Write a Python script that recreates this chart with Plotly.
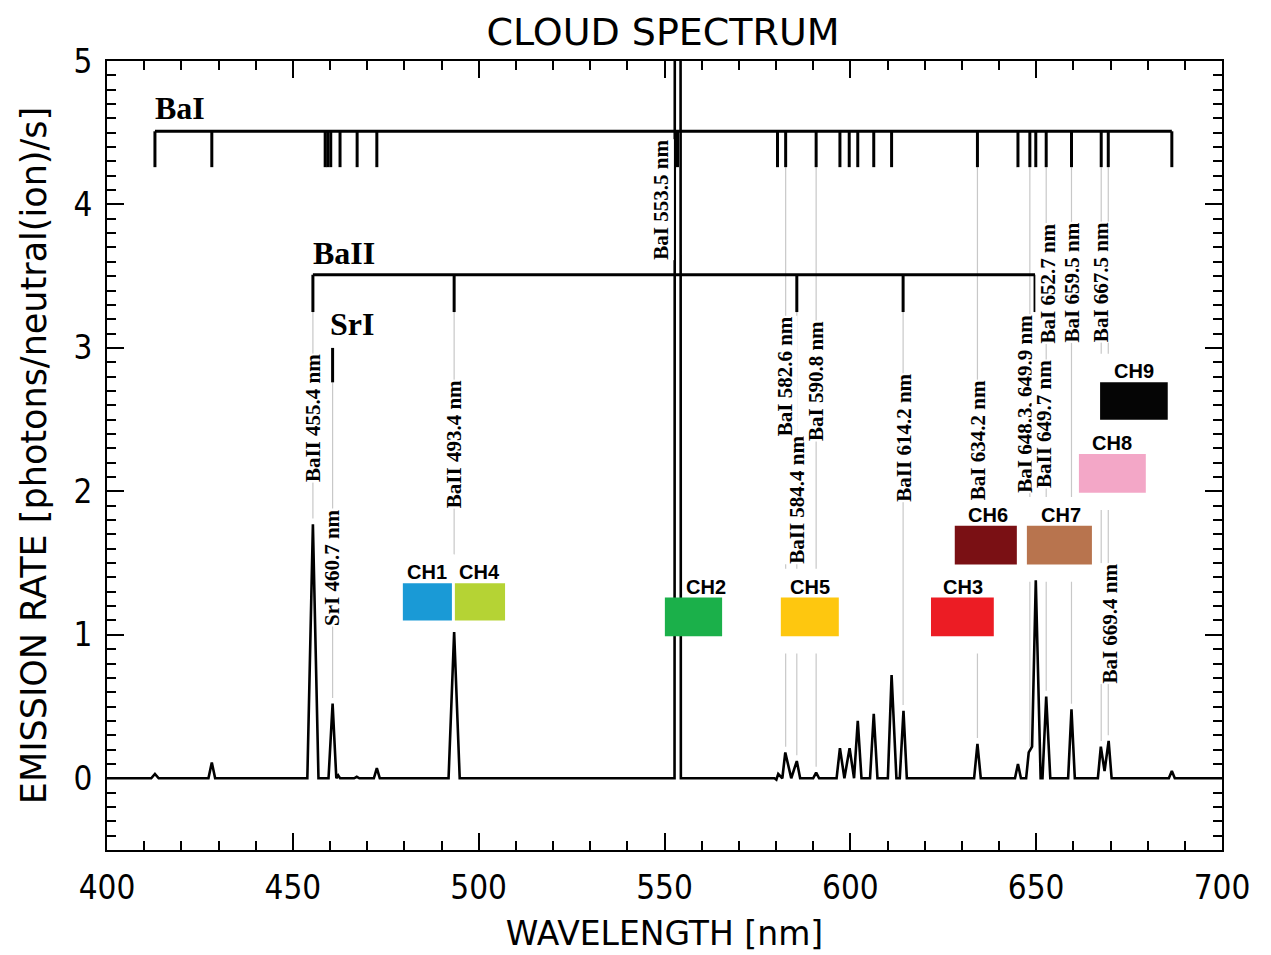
import numpy as np
import plotly.graph_objects as go

# ---------------- data ----------------
spec_wl = [400.0, 411.9, 412.9, 413.9, 427.3, 428.2, 429.1, 453.9, 455.4, 456.9,
           459.6, 460.7, 461.7, 462.2, 462.7, 463.3, 466.5, 467.2, 467.9, 471.8,
           472.6, 473.4, 491.9, 493.4, 494.9, 552.7, 553.5, 554.4, 579.6, 580.1,
           580.6, 581.7, 582.5, 584.1, 585.6, 586.5, 590.0, 590.8, 591.6, 596.3,
           597.2, 598.4, 599.8, 601.0, 602.0, 603.0, 605.3, 606.3, 607.3, 610.1,
           611.1, 612.4, 613.3, 614.3, 615.2, 633.3, 634.2, 635.1, 644.3, 645.1,
           645.9, 647.3, 648.0, 648.9, 649.9, 651.2, 651.7, 652.7, 653.8, 658.6,
           659.5, 660.4, 666.6, 667.4, 668.4, 669.5, 670.3, 685.7, 686.5, 687.3, 700.0]
spec_rate = [0.0, 0.0, 0.03, 0.0, 0.0, 0.11, 0.0, 0.0, 1.77, 0.0,
             0.0, 0.52, 0.0, 0.02, 0.0, 0.0, 0.0, 0.01, 0.0, 0.0,
             0.07, 0.0, 0.0, 1.02, 0.0, 0.0, 60.0, 0.0, 0.0, -0.01,
             0.03, 0.0, 0.18, 0.0, 0.12, 0.0, 0.0, 0.04, 0.0, 0.0,
             0.21, 0.0, 0.21, 0.0, 0.40, 0.0, 0.0, 0.45, 0.0, 0.0,
             0.72, 0.0, 0.0, 0.47, 0.0, 0.0, 0.24, 0.0, 0.0, 0.10,
             0.0, 0.0, 0.18, 0.22, 1.38, 0.0, 0.0, 0.57, 0.0, 0.0,
             0.48, 0.0, 0.0, 0.22, 0.05, 0.26, 0.0, 0.0, 0.05, 0.0, 0.0]

# line identification brackets (positions as drawn in the picture)
bai_lines = [412.9, 428.2, 458.7, 459.4, 460.2, 462.7, 467.3, 472.6, 553.5, 580.4,
             582.6, 590.8, 597.2, 599.7, 602.0, 606.3, 611.1, 634.2, 645.1, 648.3,
             649.9, 652.7, 659.5, 667.5, 669.4, 686.5]
bai_level, bai_tick_end = 4.51, 4.26
baii_lines = [455.4, 493.4, 585.6, 614.2, 649.7]
baii_level, baii_tick_end = 3.51, 3.25
sri_lines = [460.7]
sri_top, sri_tick_end = 3.0, 2.76

# labelled lines: text, drawn wavelength, label centre (rate), pixel shift
label_text = ["BaII 455.4 nm", "SrI 460.7 nm", "BaII 493.4 nm", "BaI 553.5 nm",
              "BaI 582.6 nm", "BaII 584.4 nm", "BaI 590.8 nm", "BaII 614.2 nm",
              "BaI 634.2 nm", "BaI 648.3, 649.9 nm", "BaII 649.7 nm", "BaI 652.7 nm",
              "BaI 659.5 nm", "BaI 667.5 nm", "BaI 669.4 nm"]
label_wl = [455.4, 460.7, 493.4, 553.5, 582.6, 585.6, 590.8, 614.2, 634.2, 648.3,
            649.7, 652.7, 659.5, 667.5, 669.4]
label_y = [2.51, 1.47, 2.33, 4.03, 2.80, 1.94, 2.77, 2.375, 2.36, 2.61,
           2.47, 3.45, 3.46, 3.46, 1.08]
label_dx = [0, 0, 0, -16, -1, 0, 0, 0, 0, -5, 9, 2, 0, 0, 2]

# grey guide lines: wavelength and which bracket they hang from
guide_wl = [455.4, 460.7, 493.4, 582.6, 585.6, 590.8, 614.2, 634.2, 648.3,
            652.7, 659.5, 667.5, 669.4]
guide_top = [baii_tick_end, sri_tick_end, baii_tick_end, bai_tick_end, baii_tick_end,
             bai_tick_end, baii_tick_end, bai_tick_end, bai_tick_end, bai_tick_end,
             bai_tick_end, bai_tick_end, bai_tick_end]

# camera channels
ch_names = ["CH1", "CH4", "CH2", "CH5", "CH3", "CH6", "CH7", "CH8", "CH9"]
ch_x0 = [479.6, 493.6, 550.1, 581.3, 621.7, 628.1, 647.5, 661.5, 667.2]
ch_x1 = [492.8, 507.1, 565.5, 596.9, 638.6, 644.8, 665.0, 679.5, 685.4]
ch_y0 = [1.10, 1.10, 0.99, 0.99, 0.99, 1.49, 1.49, 1.99, 2.50]
ch_y1 = [1.36, 1.36, 1.26, 1.26, 1.26, 1.76, 1.76, 2.26, 2.76]
ch_colors = ["#1a9ad6", "#b5d334", "#1bb04a", "#fec70f", "#ec1c24",
             "#7a1014", "#b8744e", "#f3a7c7", "#050505"]
ch_label_dx = [0, 0, 13, 0, 1, 2, 2, 0, 0]

# species labels
species = ["BaI", "BaII", "SrI"]
species_x = [412.9, 455.4, 459.9]
species_y = [4.67, 3.66, 3.17]

SANS_N = "DejaVu Sans Condensed, Liberation Sans Narrow, Arial Narrow, sans-serif"
SANS = "DejaVu Sans, Verdana, sans-serif"
SERIF = "Liberation Serif, Times New Roman, serif"

fig = go.Figure()

# ---- grey guide lines (below) ----
wl_arr = np.array(spec_wl)
rate_arr = np.array(spec_rate)
for wl, top in zip(guide_wl, guide_top):
    near = np.abs(wl_arr - wl) < 0.6
    peak = rate_arr[near].max() if near.any() else 0.0
    fig.add_shape(type="line", x0=wl, x1=wl, y0=peak + 0.04, y1=top,
                  line=dict(color="#c8c8c8", width=1.2), layer="below")

# white padding around channel boxes (hides guide lines)
for x0, x1, y0, y1 in zip(ch_x0, ch_x1, ch_y0, ch_y1):
    fig.add_shape(type="rect", x0=x0 - 0.6, x1=x1 + 0.6, y0=y0 - 0.12, y1=y1 + 0.2,
                  line=dict(width=0), fillcolor="white", layer="below")

# ---- spectrum ----
fig.add_trace(go.Scatter(x=spec_wl, y=spec_rate, mode="lines",
                         line=dict(color="black", width=2.6), hoverinfo="skip",
                         showlegend=False))


def bracket(lines, level, tick_end, with_bar=True):
    xs, ys = [], []
    if with_bar:
        xs += [min(lines), max(lines), None]
        ys += [level, level, None]
    for wl in lines:
        xs += [wl, wl, None]
        ys += [level, tick_end, None]
    return xs, ys


for lines, lev, end, bar in [(bai_lines, bai_level, bai_tick_end, True),
                             (baii_lines, baii_level, baii_tick_end, True),
                             (sri_lines, sri_top, sri_tick_end, False)]:
    bx, by = bracket(lines, lev, end, bar)
    fig.add_trace(go.Scatter(x=bx, y=by, mode="lines",
                             line=dict(color="black", width=3), hoverinfo="skip",
                             showlegend=False))

# ---- channel boxes (above) ----
for name, x0, x1, y0, y1, c, dx in zip(ch_names, ch_x0, ch_x1, ch_y0, ch_y1,
                                       ch_colors, ch_label_dx):
    fig.add_shape(type="rect", x0=x0, x1=x1, y0=y0, y1=y1, fillcolor=c,
                  line=dict(width=0), layer="above")
    fig.add_annotation(x=(x0 + x1) / 2, y=y1, text="<b>%s</b>" % name, showarrow=False,
                       xanchor="center", yanchor="bottom", xshift=dx, yshift=-2,
                       font=dict(family="Liberation Sans, Arial, sans-serif", size=20,
                                 color="black"))

# ---- line labels ----
for t, wl, y, dx in zip(label_text, label_wl, label_y, label_dx):
    fig.add_annotation(x=wl, y=y, text="<b>%s</b>" % t, showarrow=False, textangle=-90,
                       xanchor="center", yanchor="middle", xshift=dx,
                       bgcolor="white", borderpad=0,
                       font=dict(family=SERIF, size=21, color="black"))

for s, x, y in zip(species, species_x, species_y):
    fig.add_annotation(x=x, y=y, text="<b>%s</b>" % s, showarrow=False,
                       xanchor="left", yanchor="middle", xshift=-2,
                       font=dict(family=SERIF, size=32, color="black"))

axis_common = dict(showline=True, linewidth=2, linecolor="black", mirror="allticks",
                   ticks="inside", tickwidth=1.5, tickcolor="black", showgrid=False,
                   zeroline=False, tickfont=dict(family=SANS_N, size=33, color="black"))

fig.update_xaxes(range=[400, 700], tick0=400, dtick=50, ticklen=17,
                 minor=dict(dtick=10, ticklen=9, ticks="inside", tickwidth=1.5,
                            tickcolor="black"),
                 ticklabelstandoff=7,
                 title=dict(text="WAVELENGTH [nm]", standoff=16,
                            font=dict(family=SANS, size=33, color="black")),
                 **axis_common)
fig.update_yaxes(range=[-0.5, 5], tick0=0, dtick=1, ticklen=17,
                 minor=dict(dtick=0.1, ticklen=9, ticks="inside", tickwidth=1.5,
                            tickcolor="black"),
                 ticklabelstandoff=6,
                 title=dict(text="EMISSION RATE [photons/neutral(ion)/s]", standoff=16,
                            font=dict(family=SANS, size=35, color="black")),
                 **axis_common)

# the page adds a body margin, so the figure is drawn slightly smaller
fig.update_layout(
    width=1263, height=950, autosize=False,
    margin=dict(l=99, r=49, t=53, b=104),
    paper_bgcolor="white", plot_bgcolor="white",
    title=dict(text="CLOUD SPECTRUM", x=0.5186, xanchor="center", y=0.975,
               yanchor="middle", yref="container",
               font=dict(family=SANS, size=38, color="black")),
    showlegend=False,
)

fig.write_html("out.html")
